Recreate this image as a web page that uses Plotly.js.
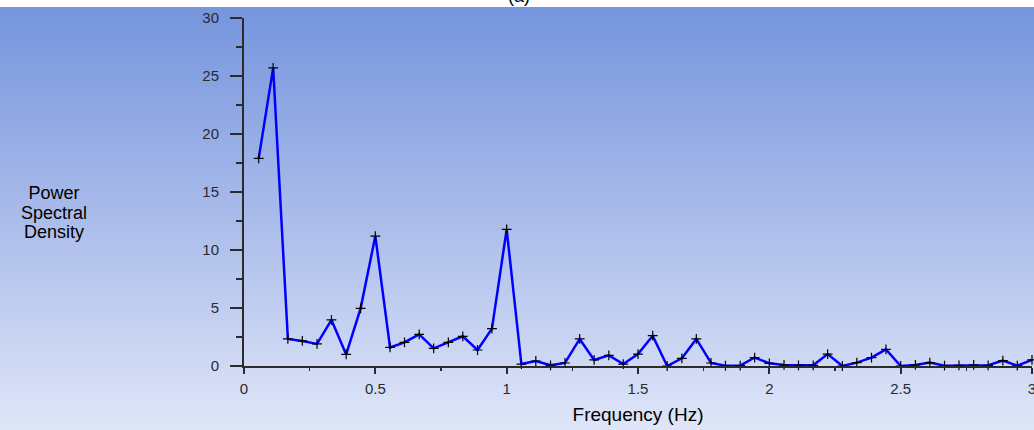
<!DOCTYPE html>
<html>
<head>
<meta charset="utf-8">
<script src="https://cdn.plot.ly/plotly-3.0.1.min.js"></script>
<style>
  html, body { margin: 0; padding: 0; background: #ffffff; }
  #chart {
    width: 1034px; height: 430px;
    background: linear-gradient(to bottom, #ffffff 0px, #ffffff 7px, #7595dd 7px, #a9bbea 215px, #dfe6f8 430px);
  }
</style>
</head>
<body>
<div id="chart"></div>
<script>
// Frequency (Hz)
const frequency = [0.056,0.111,0.167,0.222,0.278,0.333,0.389,0.444,0.5,0.556,0.611,0.667,0.722,0.778,0.833,0.889,0.944,1.0,
  1.056,1.111,1.167,1.222,1.278,1.333,1.389,1.444,1.5,1.556,1.611,1.667,1.722,1.778,1.833,1.889,1.944,2.0,
  2.056,2.111,2.167,2.222,2.278,2.333,2.389,2.444,2.5,2.556,2.611,2.667,2.722,2.778,2.833,2.889,2.944,3.0];
// Power Spectral Density
const psd = [17.9,25.7,2.33,2.16,1.9,3.97,1.0,4.97,11.2,1.6,2.04,2.73,1.52,2.04,2.56,1.38,3.22,11.78,
  0.17,0.43,0.06,0.26,2.33,0.52,0.92,0.17,1.03,2.61,0.0,0.66,2.33,0.26,0.02,0.03,0.73,0.23,
  0.09,0.06,0.06,1.03,0.0,0.29,0.72,1.44,0.0,0.09,0.29,0.03,0.06,0.09,0.06,0.46,0.03,0.52];
const xTickVals = [0, 0.5, 1, 1.5, 2, 2.5, 3];
const xTickText = ['0', '0.5', '1', '1.5', '2', '2.5', '3'];
const yTickVals = [0, 5, 10, 15, 20, 25, 30];
const yTickText = ['0', '5', '10', '15', '20', '25', '30'];
const titleText = '(a)';
const xTitle = 'Frequency (Hz)';
const yTitleLines = ['Power', 'Spectral', 'Density'];

const FONT = '"Liberation Sans", Arial, sans-serif';
const L = 243.5, R = 2, T = 18, B = 64, W = 1034, H = 430;
const plotH = H - T - B;
const pxToPaperY = (py) => (H - B - py) / plotH;
const pxToPaperX = (px) => (px - L) / (W - L - R);

const trace = {
  x: frequency, y: psd, type: 'scatter', mode: 'lines+markers',
  line: { color: '#0000ff', width: 2.5 },
  marker: { symbol: 'cross-thin', size: 7, color: '#000000', line: { color: '#000000', width: 1.2 } },
  cliponaxis: false, hoverinfo: 'x+y'
};

// line spacing follows the base font size (15px -> ~20px), glyphs drawn larger
const yTitleHtml = yTitleLines.map(t => '<span style="font-size:18px">' + t + '</span>').join('<br>');
const annotations = [{
  text: yTitleHtml, xref: 'paper', yref: 'paper', x: pxToPaperX(53), y: pxToPaperY(212),
  xanchor: 'center', yanchor: 'middle', align: 'center', showarrow: false,
  font: { family: FONT, size: 15, color: '#000000' }
}, {
  text: titleText, xref: 'paper', yref: 'paper', x: pxToPaperX(519), y: pxToPaperY(8),
  xanchor: 'center', yanchor: 'bottom', showarrow: false,
  font: { family: FONT, size: 18, color: '#000000' }
}];

const TICKCOL = '#2a2a30';
const layout = {
  width: W, height: H,
  margin: { l: L, r: R, t: T, b: B, pad: 0 },
  paper_bgcolor: 'rgba(0,0,0,0)', plot_bgcolor: 'rgba(0,0,0,0)',
  showlegend: false,
  font: { family: FONT, color: TICKCOL },
  xaxis: {
    range: [0, 3], tickmode: 'array', tickvals: xTickVals, ticktext: xTickText,
    showgrid: false, zeroline: false, showline: true, linecolor: '#2b2b2b', linewidth: 2,
    ticks: 'outside', ticklen: 6, tickwidth: 2, tickcolor: '#2b2b2b',
    minor: { dtick: 0.25, tick0: 0, ticks: 'outside', ticklen: 3, tickwidth: 1.5, tickcolor: '#2b2b2b', showgrid: false },
    tickfont: { family: FONT, size: 15, color: TICKCOL }, ticklabelstandoff: 2,
    ticklabeloverflow: 'allow',
    title: { text: xTitle, font: { family: FONT, size: 19, color: '#000000' }, standoff: 12 },
    fixedrange: true
  },
  yaxis: {
    range: [0, 30], tickmode: 'array', tickvals: yTickVals, ticktext: yTickText,
    showgrid: false, zeroline: false, showline: true, linecolor: '#2b2b2b', linewidth: 2,
    ticks: 'outside', ticklen: 12, tickwidth: 2, tickcolor: '#2b2b2b',
    minor: { dtick: 2.5, tick0: 0, ticks: 'outside', ticklen: 6, tickwidth: 1.5, tickcolor: '#2b2b2b', showgrid: false },
    tickfont: { family: FONT, size: 15, color: TICKCOL }, ticklabelstandoff: 8,
    ticklabeloverflow: 'allow',
    fixedrange: true
  },
  annotations: annotations
};

Plotly.newPlot('chart', [trace], layout, { displayModeBar: false, staticPlot: true });
</script>
</body>
</html>
